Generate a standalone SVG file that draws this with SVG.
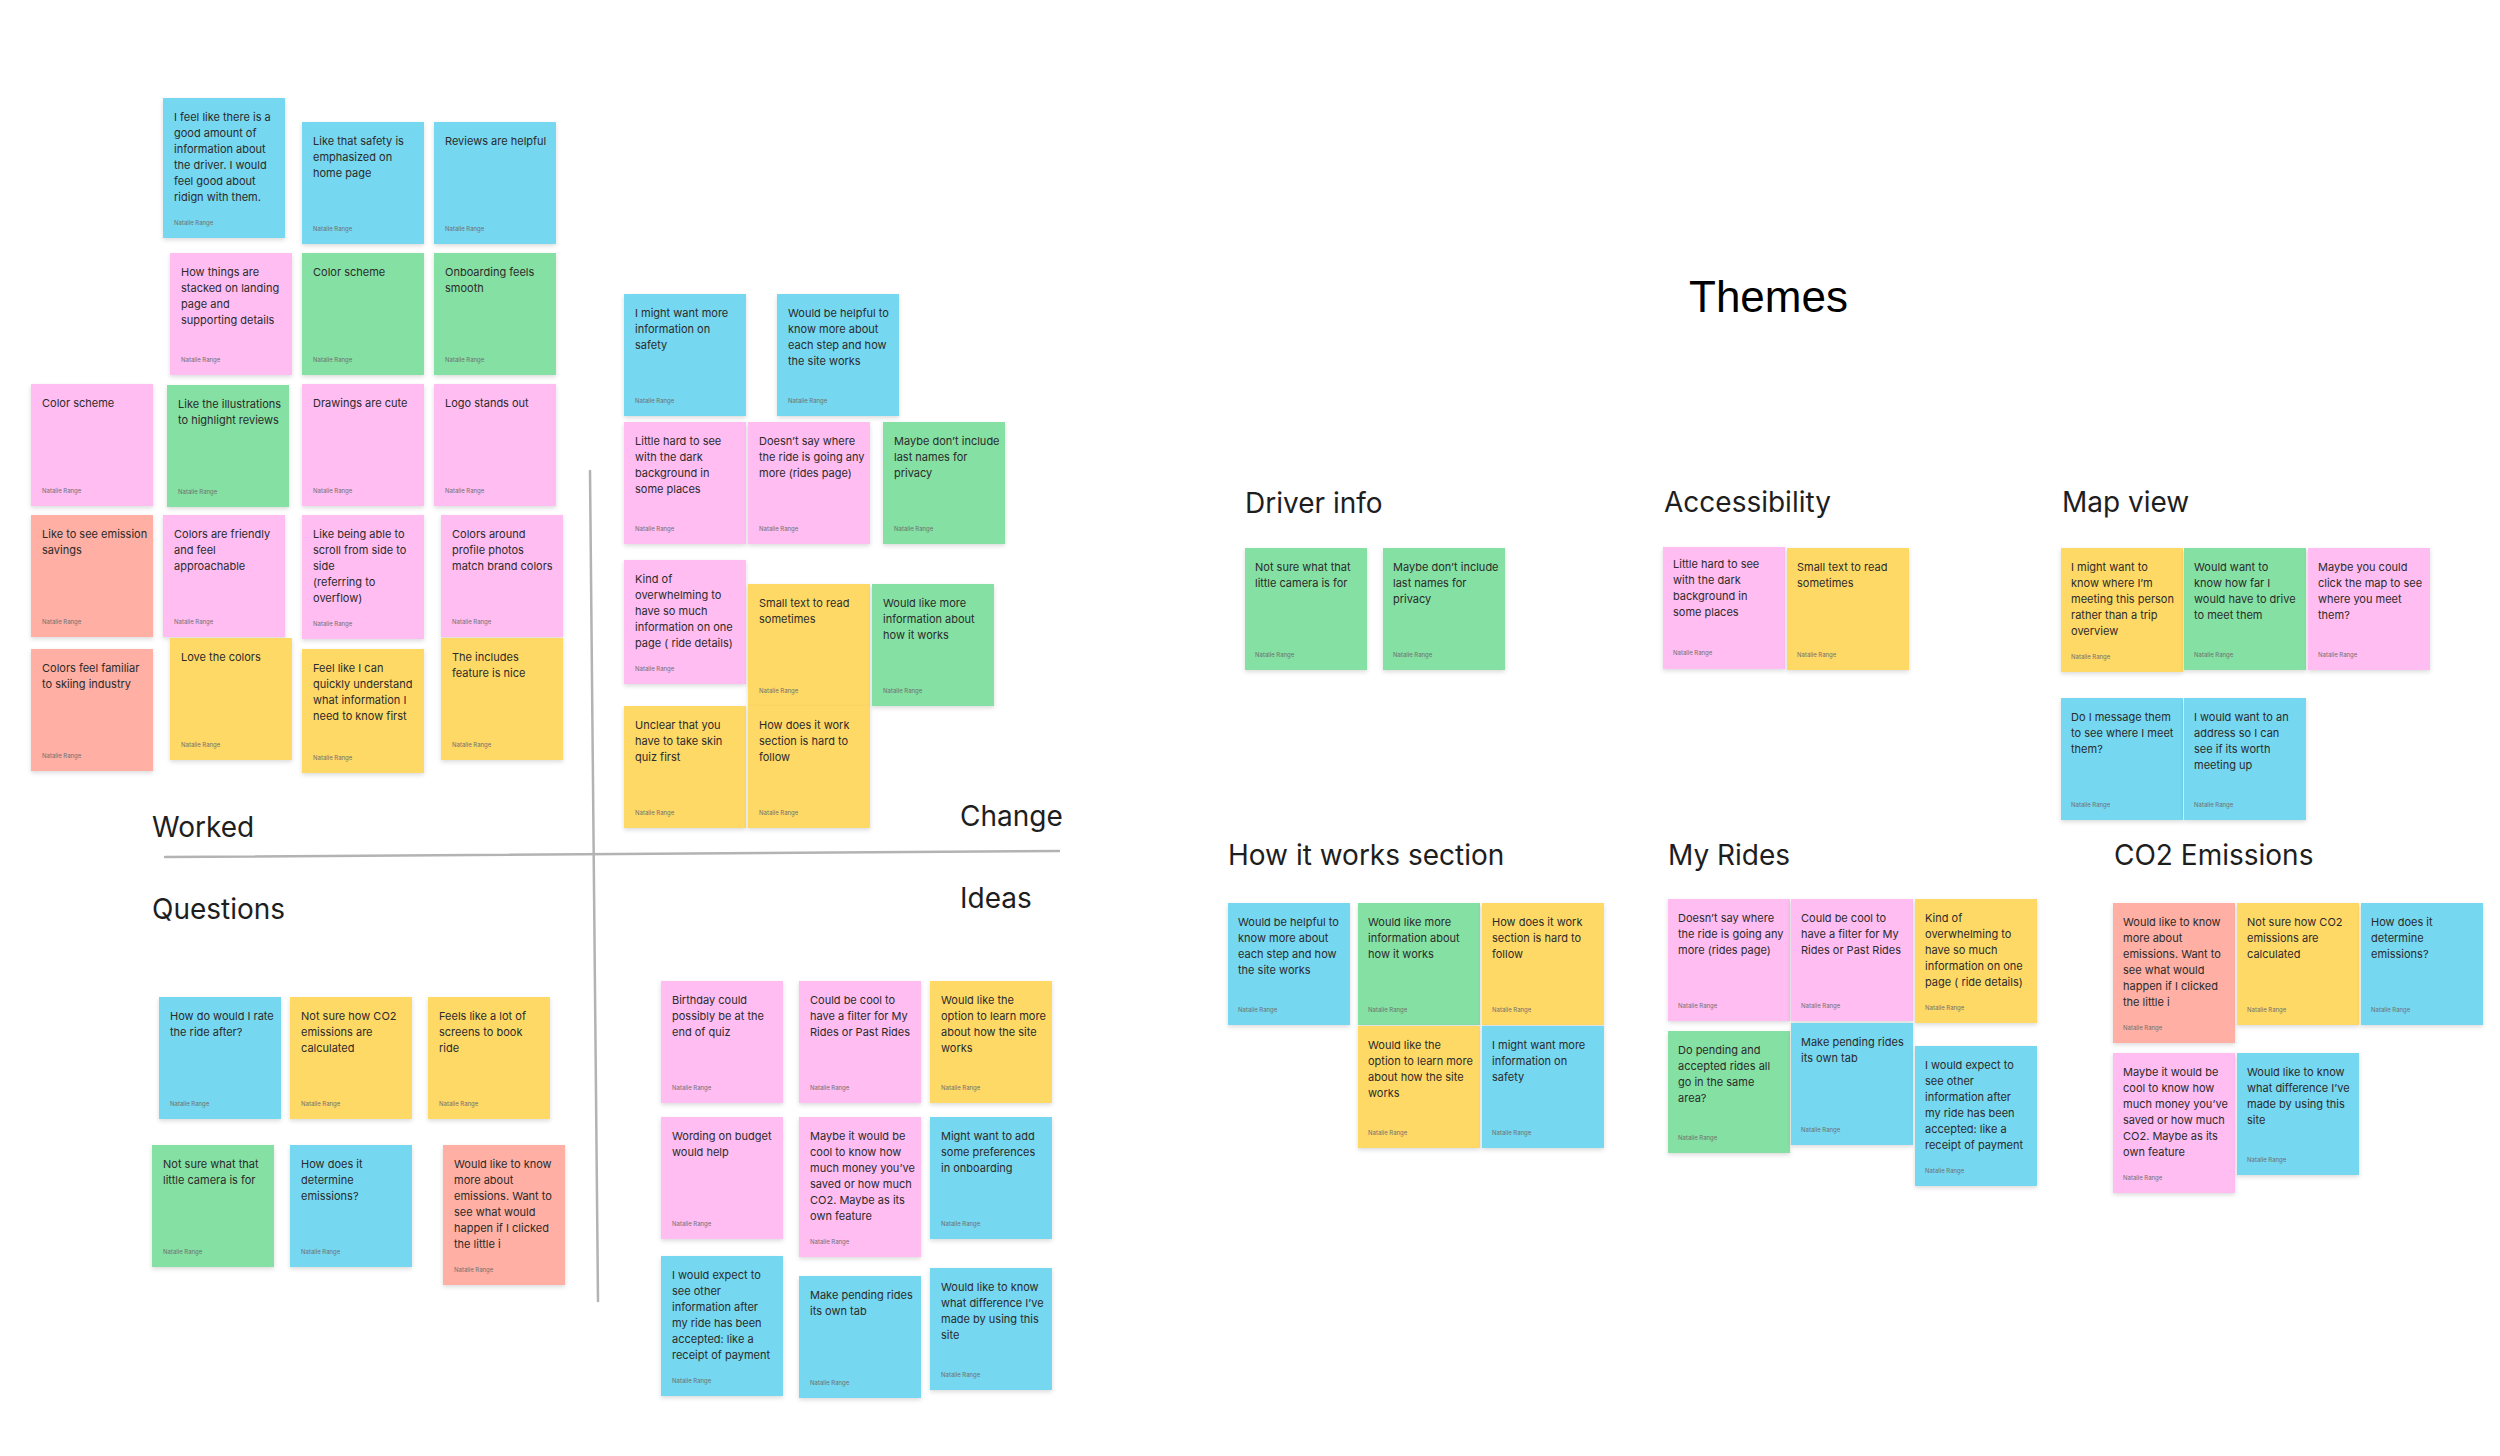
<svg xmlns="http://www.w3.org/2000/svg" width="2500" height="1456" viewBox="0 0 2500 1456">
<defs>
<filter id="sh" x="-10%" y="-10%" width="120%" height="125%">
<feDropShadow dx="0" dy="2" stdDeviation="2" flood-color="#000" flood-opacity="0.14"/>
</filter>
<style>
.n{filter:url(#sh)}
.b{fill:#75D7F0}.p{fill:#FFBDF2}.g{fill:#85E0A3}.y{fill:#FFD966}.s{fill:#FFAFA3}
.t{font-family:Inter,"Noto Sans",sans-serif;font-size:11px;fill:#2b2b2b}
.a{font-family:Inter,"Noto Sans",sans-serif;font-size:6px;fill:#6f6f6f}
.h{font-family:Inter,"Noto Sans",sans-serif;font-size:28px;fill:#1e1e1e}
.th{font-family:"Liberation Sans",Arial,sans-serif;font-size:44px;fill:#000}
.ln{stroke:#b3b3b3;stroke-width:2.5;fill:none;stroke-linecap:round}
</style>
</defs>
<rect width="2500" height="1456" fill="#fff"/>

<g id="dividers">
<line class="ln" x1="165" y1="857" x2="1059" y2="851"/>
<line class="ln" x1="590" y1="471" x2="598" y2="1301"/>
</g>

<g id="labels">
<text class="h" x="152" y="837">Worked</text>
<text class="h" x="960" y="826">Change</text>
<text class="h" x="152" y="919">Questions</text>
<text class="h" x="960" y="908">Ideas</text>
<text class="th" x="1689" y="312">Themes</text>
<text class="h" x="1245" y="513">Driver info</text>
<text class="h" x="1664" y="512">Accessibility</text>
<text class="h" x="2062" y="512">Map view</text>
<text class="h" x="1228" y="865">How it works section</text>
<text class="h" x="1668" y="865">My Rides</text>
<text class="h" x="2114" y="865">CO2 Emissions</text>
</g>

<!-- Worked -->
<g id="w1" transform="translate(163,98)"><rect class="n b" width="122" height="140"/><text class="t" y="23"><tspan x="11">I feel like there is a</tspan><tspan x="11" dy="16">good amount of</tspan><tspan x="11" dy="16">information about</tspan><tspan x="11" dy="16">the driver. I would</tspan><tspan x="11" dy="16">feel good about</tspan><tspan x="11" dy="16">ridign with them.</tspan></text><text class="a" x="11" y="127">Natalie Range</text></g>
<g id="w2" transform="translate(302,122)"><rect class="n b" width="122" height="122"/><text class="t" y="23"><tspan x="11">Like that safety is</tspan><tspan x="11" dy="16">emphasized on</tspan><tspan x="11" dy="16">home page</tspan></text><text class="a" x="11" y="109">Natalie Range</text></g>
<g id="w3" transform="translate(434,122)"><rect class="n b" width="122" height="122"/><text class="t" y="23"><tspan x="11">Reviews are helpful</tspan></text><text class="a" x="11" y="109">Natalie Range</text></g>
<g id="w4" transform="translate(170,253)"><rect class="n p" width="122" height="122"/><text class="t" y="23"><tspan x="11">How things are</tspan><tspan x="11" dy="16">stacked on landing</tspan><tspan x="11" dy="16">page and</tspan><tspan x="11" dy="16">supporting details</tspan></text><text class="a" x="11" y="109">Natalie Range</text></g>
<g id="w5" transform="translate(302,253)"><rect class="n g" width="122" height="122"/><text class="t" y="23"><tspan x="11">Color scheme</tspan></text><text class="a" x="11" y="109">Natalie Range</text></g>
<g id="w6" transform="translate(434,253)"><rect class="n g" width="122" height="122"/><text class="t" y="23"><tspan x="11">Onboarding feels</tspan><tspan x="11" dy="16">smooth</tspan></text><text class="a" x="11" y="109">Natalie Range</text></g>
<g id="w7" transform="translate(31,384)"><rect class="n p" width="122" height="122"/><text class="t" y="23"><tspan x="11">Color scheme</tspan></text><text class="a" x="11" y="109">Natalie Range</text></g>
<g id="w8" transform="translate(167,385)"><rect class="n g" width="122" height="122"/><text class="t" y="23"><tspan x="11">Like the illustrations</tspan><tspan x="11" dy="16">to highlight reviews</tspan></text><text class="a" x="11" y="109">Natalie Range</text></g>
<g id="w9" transform="translate(302,384)"><rect class="n p" width="122" height="122"/><text class="t" y="23"><tspan x="11">Drawings are cute</tspan></text><text class="a" x="11" y="109">Natalie Range</text></g>
<g id="w10" transform="translate(434,384)"><rect class="n p" width="122" height="122"/><text class="t" y="23"><tspan x="11">Logo stands out</tspan></text><text class="a" x="11" y="109">Natalie Range</text></g>
<g id="w11" transform="translate(31,515)"><rect class="n s" width="122" height="122"/><text class="t" y="23"><tspan x="11">Like to see emission</tspan><tspan x="11" dy="16">savings</tspan></text><text class="a" x="11" y="109">Natalie Range</text></g>
<g id="w12" transform="translate(163,515)"><rect class="n p" width="122" height="122"/><text class="t" y="23"><tspan x="11">Colors are friendly</tspan><tspan x="11" dy="16">and feel</tspan><tspan x="11" dy="16">approachable</tspan></text><text class="a" x="11" y="109">Natalie Range</text></g>
<g id="w13" transform="translate(302,515)"><rect class="n p" width="122" height="124"/><text class="t" y="23"><tspan x="11">Like being able to</tspan><tspan x="11" dy="16">scroll from side to</tspan><tspan x="11" dy="16">side</tspan><tspan x="11" dy="16">(referring to</tspan><tspan x="11" dy="16">overflow)</tspan></text><text class="a" x="11" y="111">Natalie Range</text></g>
<g id="w14" transform="translate(441,515)"><rect class="n p" width="122" height="122"/><text class="t" y="23"><tspan x="11">Colors around</tspan><tspan x="11" dy="16">profile photos</tspan><tspan x="11" dy="16">match brand colors</tspan></text><text class="a" x="11" y="109">Natalie Range</text></g>
<g id="w15" transform="translate(31,649)"><rect class="n s" width="122" height="122"/><text class="t" y="23"><tspan x="11">Colors feel familiar</tspan><tspan x="11" dy="16">to skiing industry</tspan></text><text class="a" x="11" y="109">Natalie Range</text></g>
<g id="w16" transform="translate(170,638)"><rect class="n y" width="122" height="122"/><text class="t" y="23"><tspan x="11">Love the colors</tspan></text><text class="a" x="11" y="109">Natalie Range</text></g>
<g id="w17" transform="translate(302,649)"><rect class="n y" width="122" height="124"/><text class="t" y="23"><tspan x="11">Feel like I can</tspan><tspan x="11" dy="16">quickly understand</tspan><tspan x="11" dy="16">what information I</tspan><tspan x="11" dy="16">need to know first</tspan></text><text class="a" x="11" y="111">Natalie Range</text></g>
<g id="w18" transform="translate(441,638)"><rect class="n y" width="122" height="122"/><text class="t" y="23"><tspan x="11">The includes</tspan><tspan x="11" dy="16">feature is nice</tspan></text><text class="a" x="11" y="109">Natalie Range</text></g>

<!-- Change -->
<g id="c1" transform="translate(624,294)"><rect class="n b" width="122" height="122"/><text class="t" y="23"><tspan x="11">I might want more</tspan><tspan x="11" dy="16">information on</tspan><tspan x="11" dy="16">safety</tspan></text><text class="a" x="11" y="109">Natalie Range</text></g>
<g id="c2" transform="translate(777,294)"><rect class="n b" width="122" height="122"/><text class="t" y="23"><tspan x="11">Would be helpful to</tspan><tspan x="11" dy="16">know more about</tspan><tspan x="11" dy="16">each step and how</tspan><tspan x="11" dy="16">the site works</tspan></text><text class="a" x="11" y="109">Natalie Range</text></g>
<g id="c3" transform="translate(624,422)"><rect class="n p" width="122" height="122"/><text class="t" y="23"><tspan x="11">Little hard to see</tspan><tspan x="11" dy="16">with the dark</tspan><tspan x="11" dy="16">background in</tspan><tspan x="11" dy="16">some places</tspan></text><text class="a" x="11" y="109">Natalie Range</text></g>
<g id="c4" transform="translate(748,422)"><rect class="n p" width="122" height="122"/><text class="t" y="23"><tspan x="11">Doesn’t say where</tspan><tspan x="11" dy="16">the ride is going any</tspan><tspan x="11" dy="16">more (rides page)</tspan></text><text class="a" x="11" y="109">Natalie Range</text></g>
<g id="c5" transform="translate(883,422)"><rect class="n g" width="122" height="122"/><text class="t" y="23"><tspan x="11">Maybe don’t include</tspan><tspan x="11" dy="16">last names for</tspan><tspan x="11" dy="16">privacy</tspan></text><text class="a" x="11" y="109">Natalie Range</text></g>
<g id="c6" transform="translate(624,560)"><rect class="n p" width="122" height="124"/><text class="t" y="23"><tspan x="11">Kind of</tspan><tspan x="11" dy="16">overwhelming to</tspan><tspan x="11" dy="16">have so much</tspan><tspan x="11" dy="16">information on one</tspan><tspan x="11" dy="16">page ( ride details)</tspan></text><text class="a" x="11" y="111">Natalie Range</text></g>
<g id="c7" transform="translate(748,584)"><rect class="n y" width="122" height="122"/><text class="t" y="23"><tspan x="11">Small text to read</tspan><tspan x="11" dy="16">sometimes</tspan></text><text class="a" x="11" y="109">Natalie Range</text></g>
<g id="c8" transform="translate(872,584)"><rect class="n g" width="122" height="122"/><text class="t" y="23"><tspan x="11">Would like more</tspan><tspan x="11" dy="16">information about</tspan><tspan x="11" dy="16">how it works</tspan></text><text class="a" x="11" y="109">Natalie Range</text></g>
<g id="c9" transform="translate(624,706)"><rect class="n y" width="122" height="122"/><text class="t" y="23"><tspan x="11">Unclear that you</tspan><tspan x="11" dy="16">have to take skin</tspan><tspan x="11" dy="16">quiz first</tspan></text><text class="a" x="11" y="109">Natalie Range</text></g>
<g id="c10" transform="translate(748,706)"><rect class="n y" width="122" height="122"/><text class="t" y="23"><tspan x="11">How does it work</tspan><tspan x="11" dy="16">section is hard to</tspan><tspan x="11" dy="16">follow</tspan></text><text class="a" x="11" y="109">Natalie Range</text></g>

<!-- Questions -->
<g id="q1" transform="translate(159,997)"><rect class="n b" width="122" height="122"/><text class="t" y="23"><tspan x="11">How do would I rate</tspan><tspan x="11" dy="16">the ride after?</tspan></text><text class="a" x="11" y="109">Natalie Range</text></g>
<g id="q2" transform="translate(290,997)"><rect class="n y" width="122" height="122"/><text class="t" y="23"><tspan x="11">Not sure how CO2</tspan><tspan x="11" dy="16">emissions are</tspan><tspan x="11" dy="16">calculated</tspan></text><text class="a" x="11" y="109">Natalie Range</text></g>
<g id="q3" transform="translate(428,997)"><rect class="n y" width="122" height="122"/><text class="t" y="23"><tspan x="11">Feels like a lot of</tspan><tspan x="11" dy="16">screens to book</tspan><tspan x="11" dy="16">ride</tspan></text><text class="a" x="11" y="109">Natalie Range</text></g>
<g id="q4" transform="translate(152,1145)"><rect class="n g" width="122" height="122"/><text class="t" y="23"><tspan x="11">Not sure what that</tspan><tspan x="11" dy="16">little camera is for</tspan></text><text class="a" x="11" y="109">Natalie Range</text></g>
<g id="q5" transform="translate(290,1145)"><rect class="n b" width="122" height="122"/><text class="t" y="23"><tspan x="11">How does it</tspan><tspan x="11" dy="16">determine</tspan><tspan x="11" dy="16">emissions?</tspan></text><text class="a" x="11" y="109">Natalie Range</text></g>
<g id="q6" transform="translate(443,1145)"><rect class="n s" width="122" height="140"/><text class="t" y="23"><tspan x="11">Would like to know</tspan><tspan x="11" dy="16">more about</tspan><tspan x="11" dy="16">emissions. Want to</tspan><tspan x="11" dy="16">see what would</tspan><tspan x="11" dy="16">happen if I clicked</tspan><tspan x="11" dy="16">the little i</tspan></text><text class="a" x="11" y="127">Natalie Range</text></g>

<!-- Ideas -->
<g id="i1" transform="translate(661,981)"><rect class="n p" width="122" height="122"/><text class="t" y="23"><tspan x="11">Birthday could</tspan><tspan x="11" dy="16">possibly be at the</tspan><tspan x="11" dy="16">end of quiz</tspan></text><text class="a" x="11" y="109">Natalie Range</text></g>
<g id="i2" transform="translate(799,981)"><rect class="n p" width="122" height="122"/><text class="t" y="23"><tspan x="11">Could be cool to</tspan><tspan x="11" dy="16">have a filter for My</tspan><tspan x="11" dy="16">Rides or Past Rides</tspan></text><text class="a" x="11" y="109">Natalie Range</text></g>
<g id="i3" transform="translate(930,981)"><rect class="n y" width="122" height="122"/><text class="t" y="23"><tspan x="11">Would like the</tspan><tspan x="11" dy="16">option to learn more</tspan><tspan x="11" dy="16">about how the site</tspan><tspan x="11" dy="16">works</tspan></text><text class="a" x="11" y="109">Natalie Range</text></g>
<g id="i4" transform="translate(661,1117)"><rect class="n p" width="122" height="122"/><text class="t" y="23"><tspan x="11">Wording on budget</tspan><tspan x="11" dy="16">would help</tspan></text><text class="a" x="11" y="109">Natalie Range</text></g>
<g id="i5" transform="translate(799,1117)"><rect class="n p" width="122" height="140"/><text class="t" y="23"><tspan x="11">Maybe it would be</tspan><tspan x="11" dy="16">cool to know how</tspan><tspan x="11" dy="16">much money you’ve</tspan><tspan x="11" dy="16">saved or how much</tspan><tspan x="11" dy="16">CO2. Maybe as its</tspan><tspan x="11" dy="16">own feature</tspan></text><text class="a" x="11" y="127">Natalie Range</text></g>
<g id="i6" transform="translate(930,1117)"><rect class="n b" width="122" height="122"/><text class="t" y="23"><tspan x="11">Might want to add</tspan><tspan x="11" dy="16">some preferences</tspan><tspan x="11" dy="16">in onboarding</tspan></text><text class="a" x="11" y="109">Natalie Range</text></g>
<g id="i7" transform="translate(661,1256)"><rect class="n b" width="122" height="140"/><text class="t" y="23"><tspan x="11">I would expect to</tspan><tspan x="11" dy="16">see other</tspan><tspan x="11" dy="16">information after</tspan><tspan x="11" dy="16">my ride has been</tspan><tspan x="11" dy="16">accepted: like a</tspan><tspan x="11" dy="16">receipt of payment</tspan></text><text class="a" x="11" y="127">Natalie Range</text></g>
<g id="i8" transform="translate(799,1276)"><rect class="n b" width="122" height="122"/><text class="t" y="23"><tspan x="11">Make pending rides</tspan><tspan x="11" dy="16">its own tab</tspan></text><text class="a" x="11" y="109">Natalie Range</text></g>
<g id="i9" transform="translate(930,1268)"><rect class="n b" width="122" height="122"/><text class="t" y="23"><tspan x="11">Would like to know</tspan><tspan x="11" dy="16">what difference I’ve</tspan><tspan x="11" dy="16">made by using this</tspan><tspan x="11" dy="16">site</tspan></text><text class="a" x="11" y="109">Natalie Range</text></g>

<!-- Themes: Driver info -->
<g id="d1" transform="translate(1245,548)"><rect class="n g" width="122" height="122"/><text class="t" y="23"><tspan x="10">Not sure what that</tspan><tspan x="10" dy="16">little camera is for</tspan></text><text class="a" x="10" y="109">Natalie Range</text></g>
<g id="d2" transform="translate(1383,548)"><rect class="n g" width="122" height="122"/><text class="t" y="23"><tspan x="10">Maybe don’t include</tspan><tspan x="10" dy="16">last names for</tspan><tspan x="10" dy="16">privacy</tspan></text><text class="a" x="10" y="109">Natalie Range</text></g>
<!-- Accessibility -->
<g id="ac1" transform="translate(1663,547)"><rect class="n p" width="122" height="122"/><text class="t" y="21"><tspan x="10">Little hard to see</tspan><tspan x="10" dy="16">with the dark</tspan><tspan x="10" dy="16">background in</tspan><tspan x="10" dy="16">some places</tspan></text><text class="a" x="10" y="108">Natalie Range</text></g>
<g id="ac2" transform="translate(1787,548)"><rect class="n y" width="122" height="122"/><text class="t" y="23"><tspan x="10">Small text to read</tspan><tspan x="10" dy="16">sometimes</tspan></text><text class="a" x="10" y="109">Natalie Range</text></g>
<!-- Map view -->
<g id="m1" transform="translate(2061,548)"><rect class="n y" width="122" height="124"/><text class="t" y="23"><tspan x="10">I might want to</tspan><tspan x="10" dy="16">know where I’m</tspan><tspan x="10" dy="16">meeting this person</tspan><tspan x="10" dy="16">rather than a trip</tspan><tspan x="10" dy="16">overview</tspan></text><text class="a" x="10" y="111">Natalie Range</text></g>
<g id="m2" transform="translate(2184,548)"><rect class="n g" width="122" height="122"/><text class="t" y="23"><tspan x="10">Would want to</tspan><tspan x="10" dy="16">know how far I</tspan><tspan x="10" dy="16">would have to drive</tspan><tspan x="10" dy="16">to meet them</tspan></text><text class="a" x="10" y="109">Natalie Range</text></g>
<g id="m3" transform="translate(2308,548)"><rect class="n p" width="122" height="122"/><text class="t" y="23"><tspan x="10">Maybe you could</tspan><tspan x="10" dy="16">click the map to see</tspan><tspan x="10" dy="16">where you meet</tspan><tspan x="10" dy="16">them?</tspan></text><text class="a" x="10" y="109">Natalie Range</text></g>
<g id="m4" transform="translate(2061,698)"><rect class="n b" width="122" height="122"/><text class="t" y="23"><tspan x="10">Do I message them</tspan><tspan x="10" dy="16">to see where I meet</tspan><tspan x="10" dy="16">them?</tspan></text><text class="a" x="10" y="109">Natalie Range</text></g>
<g id="m5" transform="translate(2184,698)"><rect class="n b" width="122" height="122"/><text class="t" y="23"><tspan x="10">I would want to an</tspan><tspan x="10" dy="16">address so I can</tspan><tspan x="10" dy="16">see if its worth</tspan><tspan x="10" dy="16">meeting up</tspan></text><text class="a" x="10" y="109">Natalie Range</text></g>
<!-- How it works section -->
<g id="h1" transform="translate(1228,903)"><rect class="n b" width="122" height="122"/><text class="t" y="23"><tspan x="10">Would be helpful to</tspan><tspan x="10" dy="16">know more about</tspan><tspan x="10" dy="16">each step and how</tspan><tspan x="10" dy="16">the site works</tspan></text><text class="a" x="10" y="109">Natalie Range</text></g>
<g id="h2" transform="translate(1358,903)"><rect class="n g" width="122" height="122"/><text class="t" y="23"><tspan x="10">Would like more</tspan><tspan x="10" dy="16">information about</tspan><tspan x="10" dy="16">how it works</tspan></text><text class="a" x="10" y="109">Natalie Range</text></g>
<g id="h3" transform="translate(1482,903)"><rect class="n y" width="122" height="122"/><text class="t" y="23"><tspan x="10">How does it work</tspan><tspan x="10" dy="16">section is hard to</tspan><tspan x="10" dy="16">follow</tspan></text><text class="a" x="10" y="109">Natalie Range</text></g>
<g id="h4" transform="translate(1358,1026)"><rect class="n y" width="122" height="122"/><text class="t" y="23"><tspan x="10">Would like the</tspan><tspan x="10" dy="16">option to learn more</tspan><tspan x="10" dy="16">about how the site</tspan><tspan x="10" dy="16">works</tspan></text><text class="a" x="10" y="109">Natalie Range</text></g>
<g id="h5" transform="translate(1482,1026)"><rect class="n b" width="122" height="122"/><text class="t" y="23"><tspan x="10">I might want more</tspan><tspan x="10" dy="16">information on</tspan><tspan x="10" dy="16">safety</tspan></text><text class="a" x="10" y="109">Natalie Range</text></g>
<!-- My Rides -->
<g id="r1" transform="translate(1668,899)"><rect class="n p" width="122" height="122"/><text class="t" y="23"><tspan x="10">Doesn’t say where</tspan><tspan x="10" dy="16">the ride is going any</tspan><tspan x="10" dy="16">more (rides page)</tspan></text><text class="a" x="10" y="109">Natalie Range</text></g>
<g id="r2" transform="translate(1791,899)"><rect class="n p" width="122" height="122"/><text class="t" y="23"><tspan x="10">Could be cool to</tspan><tspan x="10" dy="16">have a filter for My</tspan><tspan x="10" dy="16">Rides or Past Rides</tspan></text><text class="a" x="10" y="109">Natalie Range</text></g>
<g id="r3" transform="translate(1915,899)"><rect class="n y" width="122" height="124"/><text class="t" y="23"><tspan x="10">Kind of</tspan><tspan x="10" dy="16">overwhelming to</tspan><tspan x="10" dy="16">have so much</tspan><tspan x="10" dy="16">information on one</tspan><tspan x="10" dy="16">page ( ride details)</tspan></text><text class="a" x="10" y="111">Natalie Range</text></g>
<g id="r4" transform="translate(1668,1031)"><rect class="n g" width="122" height="122"/><text class="t" y="23"><tspan x="10">Do pending and</tspan><tspan x="10" dy="16">accepted rides all</tspan><tspan x="10" dy="16">go in the same</tspan><tspan x="10" dy="16">area?</tspan></text><text class="a" x="10" y="109">Natalie Range</text></g>
<g id="r5" transform="translate(1791,1023)"><rect class="n b" width="122" height="122"/><text class="t" y="23"><tspan x="10">Make pending rides</tspan><tspan x="10" dy="16">its own tab</tspan></text><text class="a" x="10" y="109">Natalie Range</text></g>
<g id="r6" transform="translate(1915,1046)"><rect class="n b" width="122" height="140"/><text class="t" y="23"><tspan x="10">I would expect to</tspan><tspan x="10" dy="16">see other</tspan><tspan x="10" dy="16">information after</tspan><tspan x="10" dy="16">my ride has been</tspan><tspan x="10" dy="16">accepted: like a</tspan><tspan x="10" dy="16">receipt of payment</tspan></text><text class="a" x="10" y="127">Natalie Range</text></g>
<!-- CO2 Emissions -->
<g id="e1" transform="translate(2113,903)"><rect class="n s" width="122" height="140"/><text class="t" y="23"><tspan x="10">Would like to know</tspan><tspan x="10" dy="16">more about</tspan><tspan x="10" dy="16">emissions. Want to</tspan><tspan x="10" dy="16">see what would</tspan><tspan x="10" dy="16">happen if I clicked</tspan><tspan x="10" dy="16">the little i</tspan></text><text class="a" x="10" y="127">Natalie Range</text></g>
<g id="e2" transform="translate(2237,903)"><rect class="n y" width="122" height="122"/><text class="t" y="23"><tspan x="10">Not sure how CO2</tspan><tspan x="10" dy="16">emissions are</tspan><tspan x="10" dy="16">calculated</tspan></text><text class="a" x="10" y="109">Natalie Range</text></g>
<g id="e3" transform="translate(2361,903)"><rect class="n b" width="122" height="122"/><text class="t" y="23"><tspan x="10">How does it</tspan><tspan x="10" dy="16">determine</tspan><tspan x="10" dy="16">emissions?</tspan></text><text class="a" x="10" y="109">Natalie Range</text></g>
<g id="e4" transform="translate(2113,1053)"><rect class="n p" width="122" height="140"/><text class="t" y="23"><tspan x="10">Maybe it would be</tspan><tspan x="10" dy="16">cool to know how</tspan><tspan x="10" dy="16">much money you’ve</tspan><tspan x="10" dy="16">saved or how much</tspan><tspan x="10" dy="16">CO2. Maybe as its</tspan><tspan x="10" dy="16">own feature</tspan></text><text class="a" x="10" y="127">Natalie Range</text></g>
<g id="e5" transform="translate(2237,1053)"><rect class="n b" width="122" height="122"/><text class="t" y="23"><tspan x="10">Would like to know</tspan><tspan x="10" dy="16">what difference I’ve</tspan><tspan x="10" dy="16">made by using this</tspan><tspan x="10" dy="16">site</tspan></text><text class="a" x="10" y="109">Natalie Range</text></g>
</svg>
